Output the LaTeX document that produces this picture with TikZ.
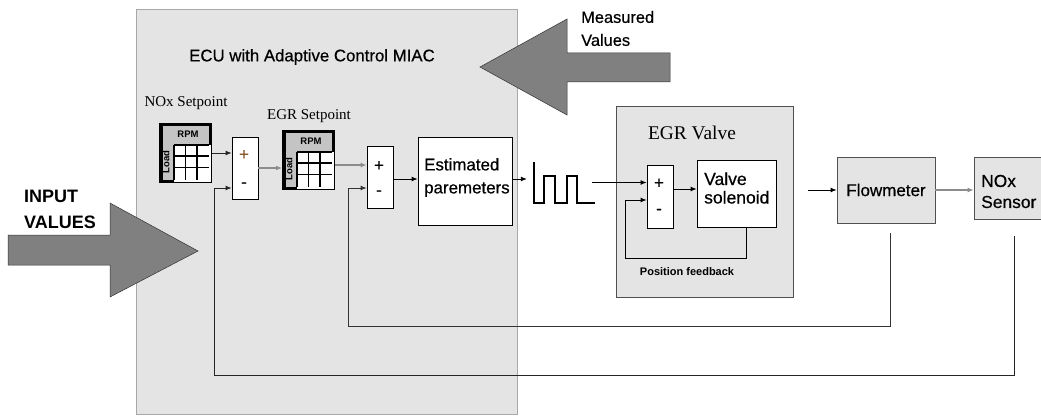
\documentclass[tikz,border=0pt]{standalone}
\usepackage{fontspec}
\setmainfont{Liberation Sans}[FakeBold=0.5]
\newfontfamily\tms{Liberation Serif}
\newfontfamily\realbold{Liberation Sans Bold}
\usetikzlibrary{arrows.meta,calc}
\definecolor{panel}{HTML}{E4E4E4}
\definecolor{panelline}{HTML}{A8A8A8}
\definecolor{darkline}{HTML}{505050}
\definecolor{lutgray}{HTML}{C4C4C4}
\definecolor{bigarrow}{HTML}{808080}
\definecolor{lightline}{HTML}{8C8C8C}
\newcommand\setfs[2]{\fontsize{#1}{#2}\selectfont}
\newcommand\lutgrid[1]{%
  \fill[white] ($(#1.north west)+(15,22)$) rectangle ($(#1.south east)+(-1,-1)$);
  \foreach \dx in {15,26.5,38} {\draw[line width=1.6pt] ($(#1.north west)+(\dx,22)$) -- ($(#1.north west)+(\dx,56.5)$);}
  \foreach \dy in {22,33,44.5} {\draw[line width=1.6pt] ($(#1.north west)+(15,\dy)$) -- ($(#1.north west)+(49.5,\dy)$);}
  \node[lutlabel] (#1-rpm) at ($(#1.north west)+(29,11)$) {RPM};
  \node[lutlabel, rotate=90] (#1-load) at ($(#1.north west)+(7,39)$) {Load};
}
\begin{document}
\begin{tikzpicture}[x=1pt,y=-1pt,
  blk/.style={draw=black, fill=white, line width=0.8pt, inner sep=0pt},
  sumblk/.style={blk, minimum width=26pt, minimum height=62pt},
  greybox/.style={draw=darkline, fill=panel, line width=0.8pt, inner sep=0pt},
  lut/.style={draw=black, line width=3.5pt, fill=lutgray, minimum width=49.5pt, minimum height=56.5pt, inner sep=0pt},
  lutlabel/.style={font=\realbold\setfs{9.5}{10}, inner sep=0pt},
  sign/.style={font=\setfs{17}{17}, inner sep=0pt},
  boxtext/.style={font=\setfs{17}{19}, align=left},
  serif/.style={font=\tms\setfs{15}{16}, inner sep=0pt},
  arr/.style={-{Latex[length=6pt,width=5pt]}, line width=0.9pt},
  bigarr/.style={fill=bigarrow, draw=black!80, line width=0.5pt}]
\useasboundingbox (0,0) rectangle (1041,417);
\clip (0,0) rectangle (1041,417);
\fill[white] (0,0) rectangle (1041,417);

% ECU panel
\node[draw=panelline, fill=panel, line width=1pt, minimum width=381pt, minimum height=404pt, inner sep=0pt] (ecu) at (326.5,212) {};
\node[font=\setfs{16.8}{20}, inner sep=0pt] (title) at (312,57) {ECU with Adaptive Control MIAC};

% look-up tables
\node[serif] (noxsp) at (186,103) {NOx Setpoint};
\node[lut] (noxtab) at (185.5,153) {};
\lutgrid{noxtab}
\node[serif] (egrsp) at (309,116) {EGR Setpoint};
\node[lut] (egrtab) at (308.5,160) {};
\lutgrid{egrtab}

% summing blocks
\node[sumblk] (s1) at (245,168) {};
\node[sign, text=brown!70!black] (s1p) at ($(s1)+(-1,-13)$) {+};
\node[sign] (s1m-sign) at ($(s1)+(-1,17)$) {-};
\node[sumblk] (s2) at (380,177) {};
\node[sign] (s2p) at ($(s2)+(-1,-11)$) {+};
\node[sign] (s2m-sign) at ($(s2)+(-1,16)$) {-};

% estimated parameters
\node[blk, minimum width=94pt, minimum height=88pt] (est) at (465,181) {};
\node[boxtext, anchor=west, inner sep=0pt, font=\setfs{16.9}{23}] (esttext) at (424,177.5) {Estimated\\paremeters};

% pulse signal
\node[minimum width=68pt, minimum height=41pt, inner sep=0pt] (pulse) at (561,182.5) {};
\draw[line width=2.4pt, line join=miter] (534,162) -- (534,203) -- (544,203) -- (544,176) -- (555,176) -- (555,203) -- (567,203) -- (567,176) -- (577,176) -- (577,203) -- (595,203);

% EGR valve
\node[greybox, minimum width=177pt, minimum height=191pt] (valve) at (704.5,201.5) {};
\node[font=\tms\setfs{19.4}{20}, inner sep=0pt] (valvetitle) at (692,133) {EGR Valve};
\node[sumblk, minimum height=63pt] (s3) at (660,196.5) {};
\node[sign] (s3p) at ($(s3)+(-1,-13)$) {+};
\node[sign] (s3m-sign) at ($(s3)+(-1,15)$) {-};
\node[blk, minimum width=79pt, minimum height=67pt] (sol) at (736.5,193.5) {};
\node[boxtext, anchor=west, inner sep=0pt, font=\setfs{17.5}{18.5}] (soltext) at (704,188) {Valve\\solenoid};
\node[font=\realbold\setfs{11}{12}, inner sep=0pt] (pfb) at (687,272) {Position feedback};

% flowmeter and NOx sensor
\node[greybox, minimum width=98pt, minimum height=66pt, font=\setfs{17}{19}] (flow) at (886,190) {Flowmeter};
\node[greybox, minimum width=80pt, minimum height=62pt] (nox) at (1014,188) {};
\node[boxtext, anchor=west, inner sep=0pt, font=\setfs{17.4}{21}] (noxtext) at (981,191.5) {NOx\\Sensor};

% big arrows
\path[bigarr] (8,235) -- (110,235) -- (110,203) -- (198,251) -- (110,297) -- (110,265) -- (8,265) -- cycle;
\node[font=\realbold\setfs{18}{26}, align=left, anchor=west, inner sep=0pt] (input) at (24,209) {INPUT\\VALUES};
\path[bigarr] (670,53) -- (567,53) -- (567,19) -- (480,67) -- (567,115) -- (567,82) -- (670,82) -- cycle;
\node[font=\setfs{16.4}{23}, align=left, anchor=west, inner sep=0pt] (measured) at (581,28.5) {Measured\\Values};

% coordinates for connector ends
\coordinate (s1m) at ($(s1.west)+(0,20)$);
\coordinate (s2m) at ($(s2.west)+(0,11)$);
\coordinate (s3m) at ($(s3.west)+(0,3.5)$);
\coordinate (egrout) at ($(egrtab.east)+(0,5)$);
\coordinate (s2out) at ($(s2.east)+(0,2)$);
\coordinate (estout) at ($(est.east)+(0,-2)$);
\coordinate (pulseout) at ($(pulse.east)+(-3,0)$);
\coordinate (s3out) at ($(s3.east)+(0,-7.5)$);
\coordinate (solfb) at ($(sol.south)+(9.5,0)$);
\coordinate (valveout) at ($(valve.east |- flow.west)+(15,0)$);
\coordinate (flowfb) at ($(flow.south)+(4,10)$);
\coordinate (noxfb) at ($(nox.south)+(0,17)$);
\coordinate (fb1) at (214,375);
\coordinate (fb2) at (348,326);
\coordinate (pf) at (625,258);

% connectors
\draw[arr, draw=black!85] (noxtab.east) -- (noxtab.east -| s1.west);
\draw[arr, draw=lightline, line width=1.2pt] (s1.east) -- (s1.east -| egrtab.west);
\draw[arr, draw=lightline, line width=1.2pt] (egrout) -- (egrout -| s2.west);
\draw[arr] (s2out) -- (s2out -| est.west);
\draw[arr] (estout) -- (estout -| pulse.west);
\draw[arr] (pulseout) -- (pulseout -| s3.west);
\draw[arr] (s3out) -- (s3out -| sol.west);
\draw[arr] (solfb) |- (pf) |- (s3m);
\draw[arr] (valveout) -- (flow.west);
\draw[arr, draw=lightline, line width=1.2pt] (flow.east) -- (flow.east -| nox.west);
\draw[arr, draw=black!80] (flowfb) |- (fb2) |- (s2m);
\draw[arr, draw=black!85] (noxfb) |- (fb1) |- (s1m);
\end{tikzpicture}
\end{document}
